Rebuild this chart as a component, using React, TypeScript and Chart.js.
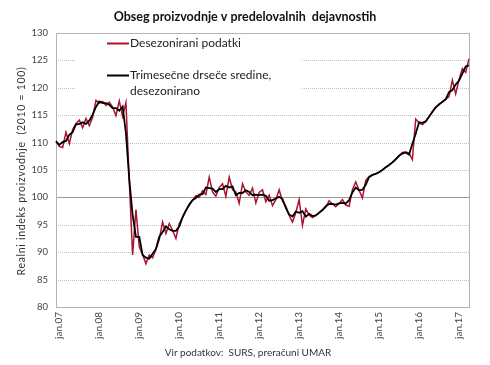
import React, { useEffect, useRef } from "react";
import { Chart, registerables } from "chart.js";

Chart.register(...registerables);

const years = ["07", "08", "09", "10", "11", "12", "13", "14", "15", "16", "17"];
const months = ["jan", "feb", "mar", "apr", "maj", "jun", "jul", "avg", "sep", "okt", "nov", "dec"];
const categories: string[] = years.flatMap((y) => months.map((m) => `${m}.${y}`)).slice(0, 125);
const tickLabels: string[] = years.map((y) => `jan.${y}`);
const yTicks = [80, 85, 90, 95, 100, 105, 110, 115, 120, 125, 130];

const chartTitle = "Obseg proizvodnje v predelovalnih  dejavnostih";
const yTitle = "Realni indeks proizvodnje  (2010 = 100)";
const sourceText = "Vir podatkov:  SURS, preračuni UMAR";
const rawName = "Desezonirani podatki";
const smoothNameLines = ["Trimesečne drseče sredine,", "desezonirano"];

// Desezonirani podatki (monthly, jan.07 – maj.17)
const rawSeries = [
  110.3, 109.3, 109.1, 111.9, 109.8, 112.4, 113.5, 114.1, 112.7, 114.4, 113.1, 114.6,
  117.7, 117.2, 117.5, 116.8, 117.4, 116.5, 114.9, 117.6, 114.8, 117.3, 103.0, 89.5,
  97.8, 91.0, 89.6, 87.9, 89.5, 89.0, 90.5, 92.3, 95.5, 93.4, 95.2, 94.0,
  92.5, 95.2, 96.3, 97.6, 98.8, 99.5, 100.3, 100.0, 101.2, 100.5, 103.7, 101.0,
  100.2, 101.8, 102.5, 100.2, 103.7, 101.4, 101.0, 98.9, 102.5, 101.0, 100.4, 101.7,
  99.0, 100.9, 101.4, 99.2, 100.4, 98.5, 99.6, 101.4, 99.3, 98.4, 96.7, 95.5,
  97.2, 99.6, 94.9, 97.9, 96.8, 96.3, 96.7, 97.2, 97.7, 98.2, 99.4, 98.8,
  98.3, 98.9, 99.6, 98.6, 98.4, 101.4, 102.8, 101.3, 99.9, 103.1, 103.8, 104.1,
  104.3, 104.6, 105.0, 105.5, 105.9, 106.4, 106.9, 107.6, 108.2, 108.3, 108.1, 106.9,
  114.3, 113.6, 113.3, 113.8, 114.7, 115.7, 116.5, 116.9, 117.5, 117.9, 118.4, 121.4,
  118.9, 121.5, 123.5, 122.8, 125.3,
];

// Trimesečne drseče sredine, desezonirano
const smoothSeries = [
  110.2, 109.6, 110.1, 110.3, 111.4, 111.9, 113.3, 113.4, 113.7, 113.4, 114.0, 115.1,
  116.5, 117.5, 117.2, 117.2, 116.9, 116.3, 116.3, 115.8, 116.6, 111.7, 103.3, 96.8,
  92.8, 92.8, 89.5, 89.0, 88.8, 89.7, 90.6, 92.8, 93.7, 94.7, 94.2, 93.9,
  93.9, 94.7, 96.4, 97.6, 98.6, 99.5, 99.9, 100.5, 100.6, 101.8, 101.7, 101.6,
  101.0, 101.5, 101.5, 102.1, 101.8, 102.0, 100.4, 100.8, 100.8, 101.3, 101.0, 100.4,
  100.5, 100.4, 100.5, 100.3, 99.4, 99.5, 99.8, 100.1, 99.7, 98.1, 96.9, 96.5,
  97.4, 97.2, 97.5, 96.5, 97.0, 96.6, 96.7, 97.2, 97.7, 98.4, 98.8, 98.8,
  98.7, 98.9, 99.0, 98.9, 99.5, 100.9, 101.8, 101.3, 101.4, 102.3, 103.7, 104.1,
  104.3, 104.6, 105.0, 105.5, 105.9, 106.4, 107.0, 107.6, 108.0, 108.2, 107.8, 109.8,
  111.6, 113.7, 113.6, 113.9, 114.7, 115.6, 116.4, 117.0, 117.4, 117.9, 119.2, 119.6,
  120.6, 121.3, 122.6, 123.9, 124.1,
];

const RED = "#AC132E";
const FONT = "Lato, 'Open Sans', sans-serif";

const decorPlugin = {
  id: "decor",
  beforeDraw(chart: any) {
    const { ctx, width, height } = chart;
    ctx.save();
    ctx.fillStyle = "#ffffff";
    ctx.fillRect(0, 0, width, height);
    ctx.restore();
  },
  beforeDatasetsDraw(chart: any) {
    const { ctx, chartArea, scales } = chart;
    const { left, right, top, bottom } = chartArea;
    const y = scales.y;
    ctx.save();
    ctx.lineWidth = 1;
    yTicks.forEach((v) => {
      if (v === 80 || v === 130) return;
      const py = Math.round(y.getPixelForValue(v)) + 0.5;
      ctx.beginPath();
      if (v === 100) {
        ctx.setLineDash([]);
        ctx.strokeStyle = "#9a9a9a";
      } else {
        ctx.setLineDash([1, 1]);
        ctx.strokeStyle = "#c2c2c2";
      }
      ctx.moveTo(left, py);
      ctx.lineTo(right, py);
      ctx.stroke();
    });
    ctx.setLineDash([]);
    ctx.strokeStyle = "#b3b3b3";
    ctx.strokeRect(
      Math.round(left) + 0.5,
      Math.round(top) + 0.5,
      Math.round(right - left),
      Math.round(bottom - top)
    );
    ctx.restore();
  },
  afterDatasetsDraw(chart: any) {
    const { ctx } = chart;
    ctx.save();
    // legend box
    ctx.fillStyle = "#ffffff";
    ctx.fillRect(76, 34, 226, 64);
    ctx.lineWidth = 2;
    ctx.strokeStyle = RED;
    ctx.beginPath();
    ctx.moveTo(107, 43.5);
    ctx.lineTo(129, 43.5);
    ctx.stroke();
    ctx.strokeStyle = "#000";
    ctx.beginPath();
    ctx.moveTo(107, 75.5);
    ctx.lineTo(129, 75.5);
    ctx.stroke();
    ctx.fillStyle = "#222";
    ctx.font = `12px ${FONT}`;
    ctx.textAlign = "left";
    ctx.textBaseline = "middle";
    ctx.fillText(rawName, 130, 43);
    ctx.fillText(smoothNameLines[0], 130, 75);
    ctx.fillText(smoothNameLines[1], 130, 91);
    ctx.restore();
  },
  afterDraw(chart: any) {
    const { ctx } = chart;
    ctx.save();
    ctx.fillStyle = "#111";
    ctx.font = `bold 12.5px ${FONT}`;
    ctx.textAlign = "center";
    ctx.textBaseline = "alphabetic";
    ctx.fillText(chartTitle, 245, 21);
    ctx.font = `10px ${FONT}`;
    ctx.fillStyle = "#333";
    ctx.fillText(sourceText, 248, 356);
    ctx.translate(22, 171);
    ctx.rotate(-Math.PI / 2);
    ctx.font = `10.5px ${FONT}`;
    try {
      (ctx as any).letterSpacing = "0.7px";
    } catch (e) {}
    ctx.textBaseline = "middle";
    ctx.fillText(yTitle, 0, 0);
    ctx.restore();
  },
};

export default function App() {
  const ref = useRef<HTMLCanvasElement | null>(null);
  useEffect(() => {
    if (!ref.current) return;
    const chart = new Chart(ref.current, {
      type: "line",
      data: {
        labels: categories,
        datasets: [
          {
            label: "Trimesečne drseče sredine, desezonirano",
            data: smoothSeries,
            borderColor: "#000000",
            borderWidth: 1.8,
            pointRadius: 0,
            tension: 0,
            fill: false,
            order: 0,
          },
          {
            label: rawName,
            data: rawSeries,
            borderColor: RED,
            borderWidth: 1.5,
            pointRadius: 0,
            tension: 0,
            fill: false,
            order: 1,
          },
        ],
      },
      options: {
        responsive: false,
        animation: false,
        devicePixelRatio: 1,
        layout: { padding: { top: 33, right: 21, left: 0, bottom: 0 } },
        plugins: {
          legend: { display: false },
          title: { display: false },
          tooltip: { enabled: false },
        },
        scales: {
          x: {
            type: "category",
            offset: false,
            grid: { display: false, drawTicks: false },
            border: { display: false },
            ticks: {
              autoSkip: false,
              maxRotation: 90,
              minRotation: 90,
              padding: 5,
              labelOffset: 3,
              color: "#444",
              font: { family: FONT, size: 10 },
              callback: (_v: any, i: number) =>
                tickLabels.includes(categories[i]) ? categories[i] : "",
            },
            afterFit: (s: any) => {
              s.height = 58;
            },
          },
          y: {
            min: 80,
            max: 130,
            grid: { display: false, drawTicks: false },
            border: { display: false },
            ticks: {
              stepSize: 5,
              padding: 8,
              color: "#444",
              font: { family: FONT, size: 9.5 },
            },
            afterFit: (s: any) => {
              s.width = 56;
            },
          },
        },
      },
      plugins: [decorPlugin],
    } as any);
    return () => chart.destroy();
  }, []);
  return (
    <div style={{ position: "fixed", left: 0, top: 0, width: 490, height: 365, background: "#fff" }}>
      <canvas ref={ref} width={490} height={365} style={{ display: "block", width: 490, height: 365 }} />
    </div>
  );
}
